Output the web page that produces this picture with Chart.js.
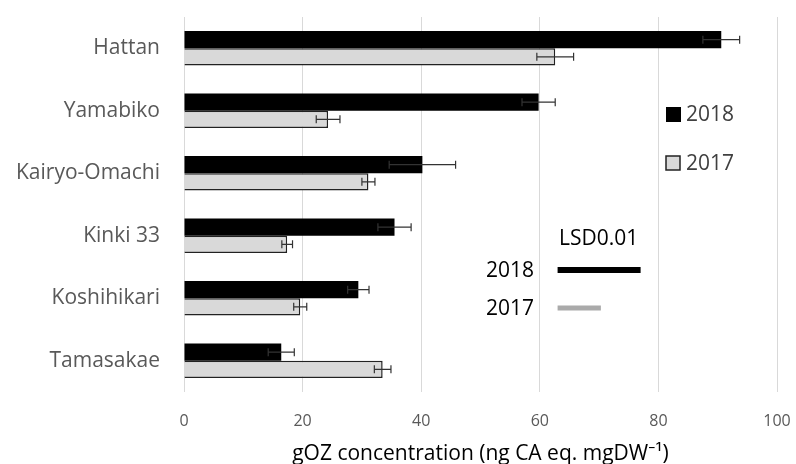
<!DOCTYPE html>
<html>
<head>
<meta charset="utf-8">
<script src="https://cdn.jsdelivr.net/npm/chart.js@4"></script>
<style>
  html, body { margin: 0; padding: 0; background: #fff; }
  #wrap { width: 796px; height: 464px; }
</style>
</head>
<body>
<div id="wrap"><canvas id="chart" width="796" height="464"></canvas></div>
<script>
// Data
const varieties = ['Hattan', 'Yamabiko', 'Kairyo-Omachi', 'Kinki 33', 'Koshihikari', 'Tamasakae'];
const values2018 = [90.6, 59.8, 40.2, 35.5, 29.4, 16.4];
const errors2018 = [3.1, 2.8, 5.6, 2.8, 1.8, 2.2];
const values2017 = [62.6, 24.3, 31.1, 17.4, 19.6, 33.5];
const errors2017 = [3.1, 2.0, 1.1, 0.9, 1.1, 1.4];
const xTicks = [0, 20, 40, 60, 80, 100];
const lsdLabels = ['2018', '2017'];
const lsdValues = [14.0, 7.3];   // length of LSD0.01 bars (in x units)
const lsdStart = 63;

const FONT = "'Open Sans', 'Noto Sans', sans-serif";

// Error bars on each bar
const errorBars = {
    id: 'errorBars',
    afterDatasetsDraw(chart) {
        const ctx = chart.ctx;
        const x = chart.scales.x;
        const errs = [errors2018, errors2017];
        ctx.save();
        ctx.strokeStyle = '#333';
        ctx.lineWidth = 1.2;
        chart.data.datasets.forEach((ds, d) => {
            const meta = chart.getDatasetMeta(d);
            meta.data.forEach((bar, i) => {
                const v = ds.data[i];
                const e = errs[d][i];
                const x1 = x.getPixelForValue(v - e);
                const x2 = x.getPixelForValue(v + e);
                const y = bar.y;
                ctx.beginPath();
                ctx.moveTo(x1, y); ctx.lineTo(x2, y);
                ctx.moveTo(x1, y - 4); ctx.lineTo(x1, y + 4);
                ctx.moveTo(x2, y - 4); ctx.lineTo(x2, y + 4);
                ctx.stroke();
            });
        });
        ctx.restore();
    }
};

// Legend squares and the LSD0.01 block
const extras = {
    id: 'extras',
    afterDraw(chart) {
        const ctx = chart.ctx;
        const x = chart.scales.x;
        ctx.save();
        // legend
        ctx.font = '21px ' + FONT;
        ctx.textBaseline = 'middle';
        ctx.textAlign = 'left';
        ctx.fillStyle = '#000';
        ctx.fillRect(666, 107, 15, 15);
        ctx.fillStyle = '#d9d9d9';
        ctx.fillRect(666, 156, 14, 14);
        ctx.strokeStyle = '#222';
        ctx.lineWidth = 1.5;
        ctx.strokeRect(666, 156, 14, 14);
        ctx.fillStyle = '#404040';
        ctx.fillText('2018', 686, 115);
        ctx.fillText('2017', 686, 164);

        // LSD0.01
        ctx.fillStyle = '#000';
        ctx.textAlign = 'left';
        ctx.fillText('LSD0.01', 559, 239);
        ctx.textAlign = 'right';
        const ys = [270, 308];
        const colors = ['#000', '#aaa'];
        const widths = [6, 5];
        lsdLabels.forEach((lab, i) => {
            ctx.fillStyle = '#000';
            ctx.fillText(lab, 534, ys[i] + 1);
            ctx.strokeStyle = colors[i];
            ctx.lineWidth = widths[i];
            ctx.beginPath();
            ctx.moveTo(x.getPixelForValue(lsdStart), ys[i]);
            ctx.lineTo(x.getPixelForValue(lsdStart + lsdValues[i]), ys[i]);
            ctx.stroke();
        });
        ctx.restore();
    }
};

new Chart(document.getElementById('chart'), {
    type: 'bar',
    data: {
        labels: varieties,
        datasets: [{
            label: '2018',
            data: values2018,
            backgroundColor: '#000',
            borderColor: '#000',
            borderWidth: 0
        }, {
            label: '2017',
            data: values2017,
            backgroundColor: '#d9d9d9',
            borderColor: '#222',
            borderWidth: 1.5
        }]
    },
    options: {
        indexAxis: 'y',
        responsive: false,
        animation: false,
        devicePixelRatio: 1,
        layout: { padding: { top: 17, right: 19, left: 0, bottom: 0 } },
        datasets: {
            bar: { categoryPercentage: 0.55, barPercentage: 1.0 }
        },
        plugins: {
            legend: { display: false },
            tooltip: { enabled: false }
        },
        scales: {
            x: {
                min: 0,
                max: 100,
                afterBuildTicks(axis) {
                    axis.ticks = xTicks.map(v => ({ value: v }));
                },
                afterFit(scale) {
                    scale.height = 72;
                    scale.paddingLeft = 0;
                    scale.paddingRight = 0;
                },
                grid: { color: '#d9d9d9', lineWidth: 1, drawTicks: false },
                border: { display: false },
                ticks: {
                    color: '#595959',
                    font: { family: FONT, size: 16 },
                    padding: 20
                },
                title: {
                    display: true,
                    text: 'gOZ concentration (ng CA eq. mgDW\u207B\u00B9)',
                    color: '#000',
                    font: { family: FONT, size: 21 },
                    padding: { top: 0, bottom: -3 }
                }
            },
            y: {
                afterFit(scale) {
                    scale.width = 184;
                    scale.paddingTop = 0;
                    scale.paddingBottom = 0;
                },
                grid: { display: false, drawTicks: false },
                border: { display: false },
                ticks: {
                    color: '#595959',
                    font: { family: FONT, size: 21 },
                    padding: 24
                }
            }
        }
    },
    plugins: [errorBars, extras]
});
</script>
</body>
</html>
